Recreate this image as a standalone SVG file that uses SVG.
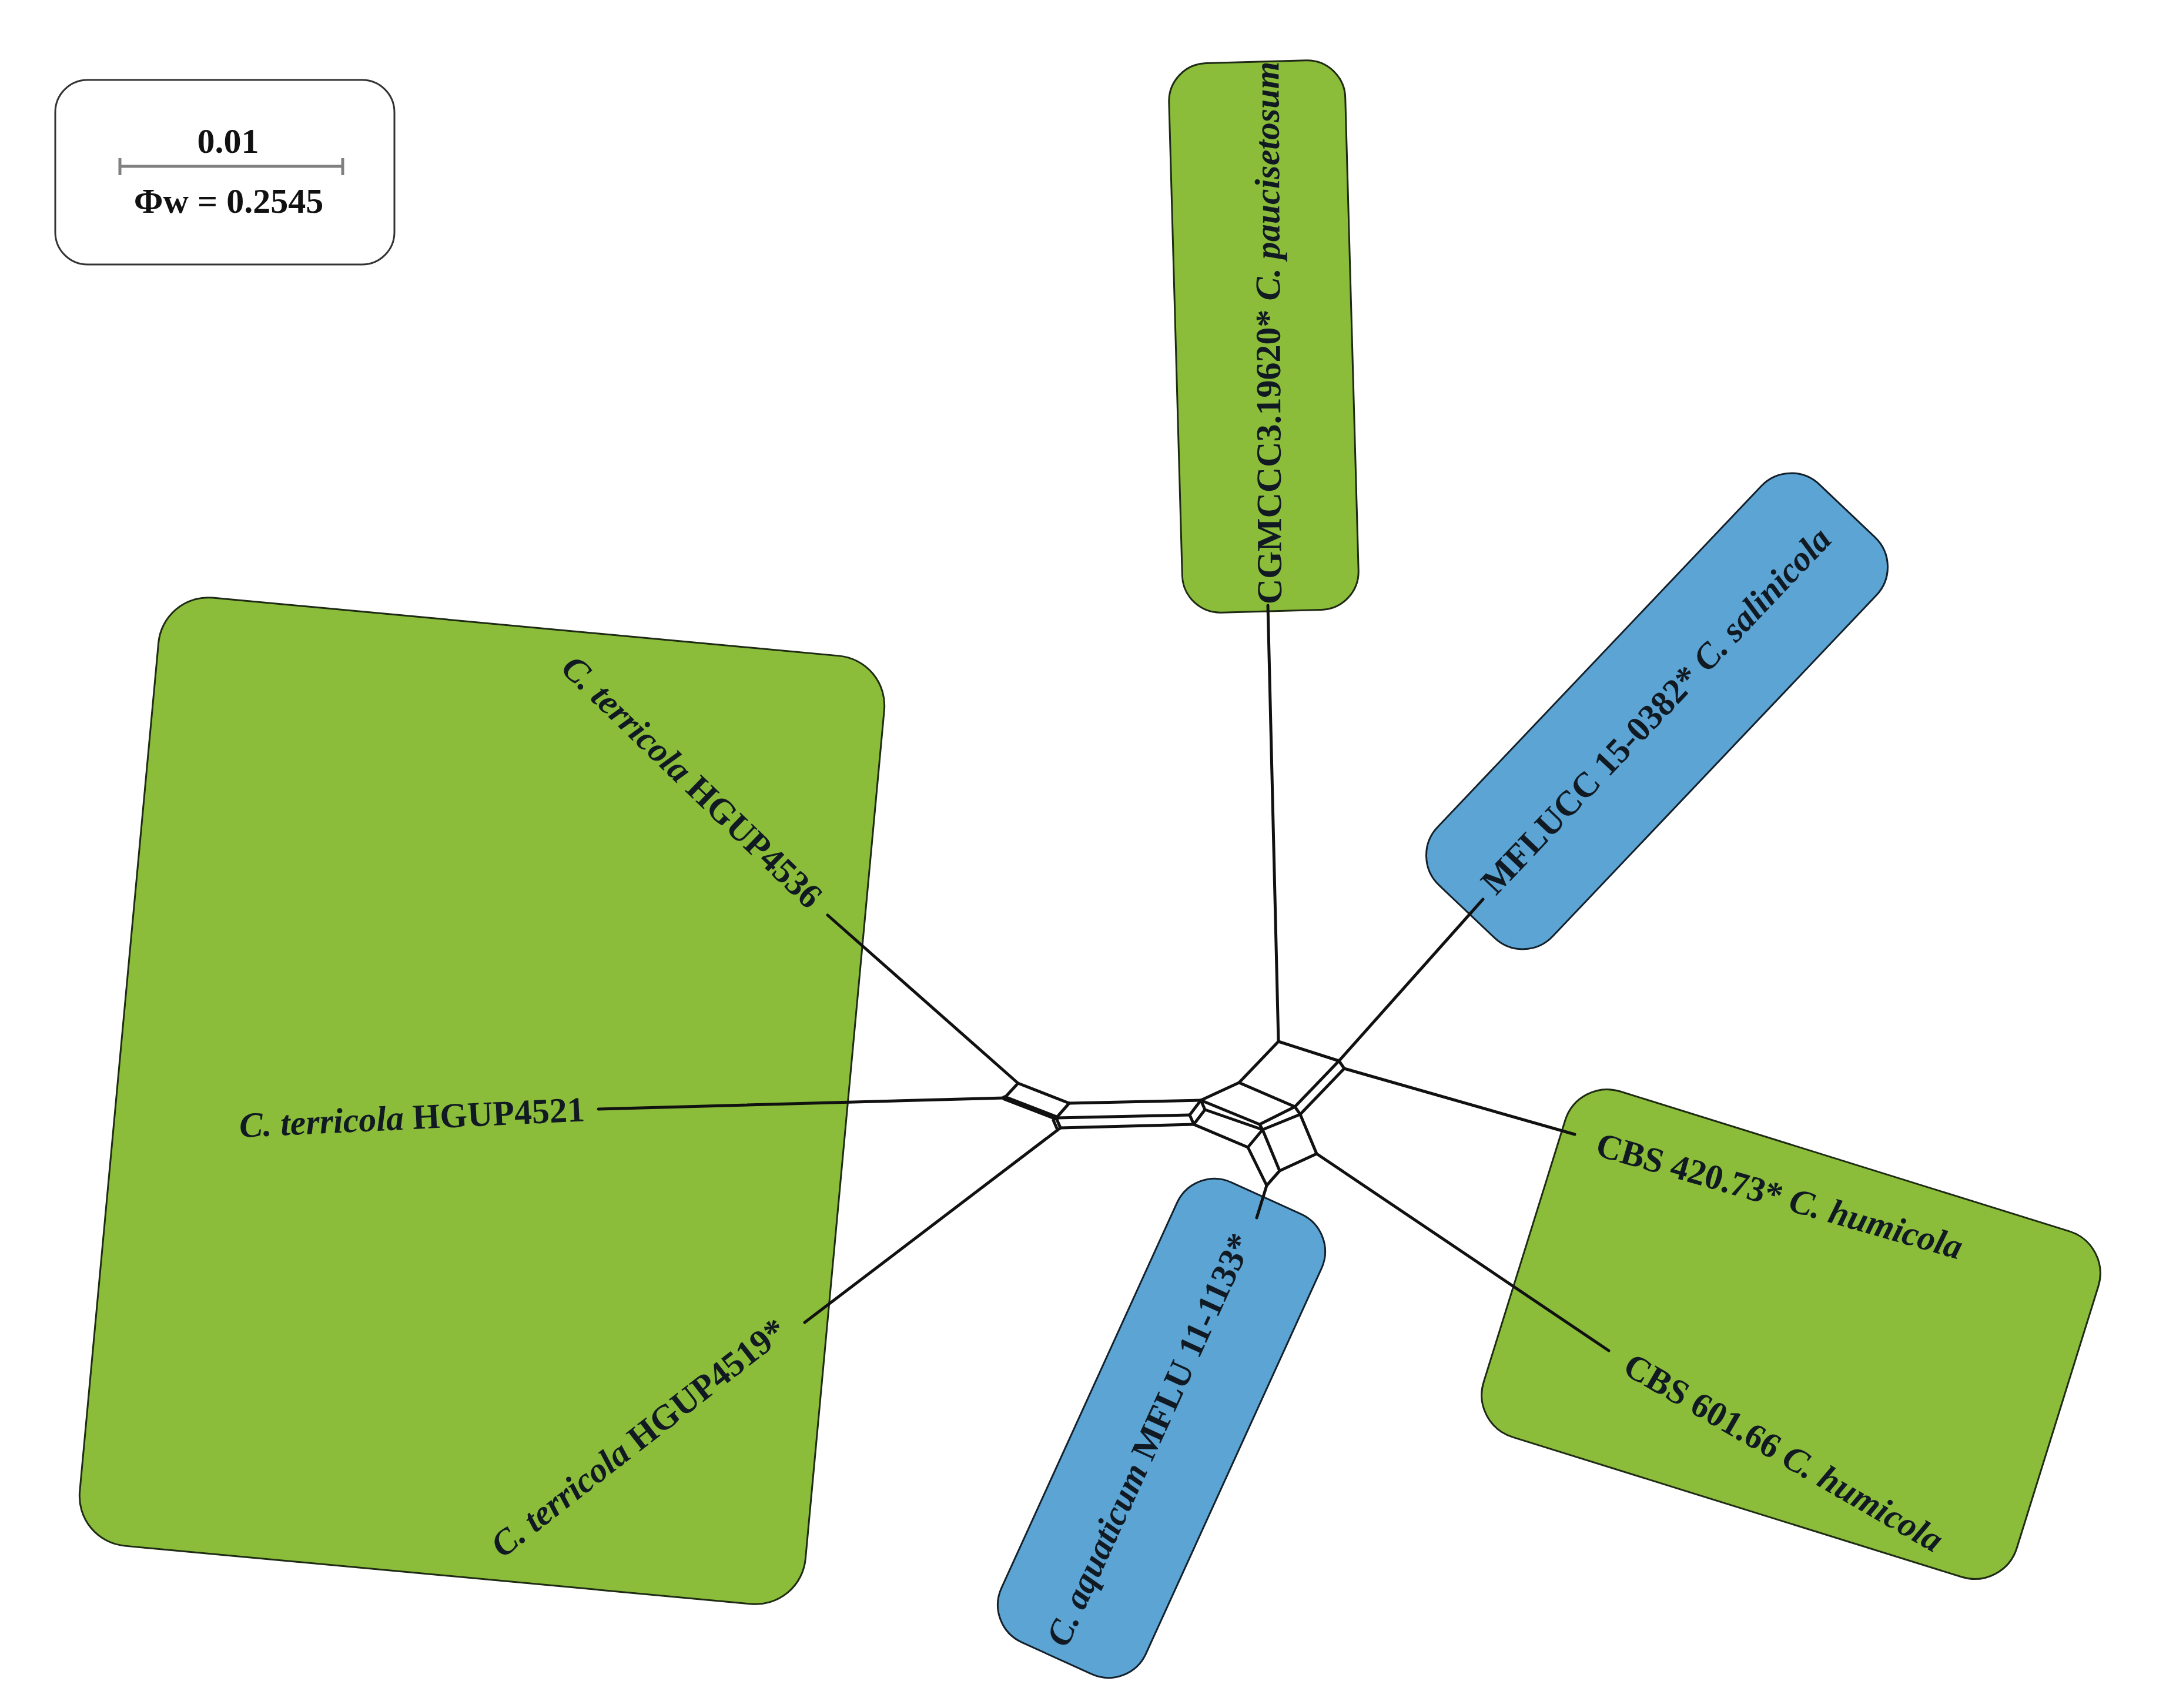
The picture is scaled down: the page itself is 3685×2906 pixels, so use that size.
<svg xmlns="http://www.w3.org/2000/svg" width="3685" height="2906" viewBox="0 0 3685 2906">
<style>
.bg{fill:#ffffff}
.green{fill:#8bbd3b;stroke:#1e2a14;stroke-width:3}
.blue{fill:#5ba4d4;stroke:#14202a;stroke-width:3}
.lbl{font-family:"Liberation Serif","Times New Roman",serif;font-weight:bold;font-size:60px;fill:#111a22}
.it{font-style:italic}
.edge{fill:none;stroke:#111;stroke-width:5;stroke-linecap:round;stroke-linejoin:round}
.thick{stroke-width:9}
.legtxt{font-family:"Liberation Serif","Times New Roman",serif;font-weight:bold;font-size:60px;fill:#111;text-anchor:middle}
</style>
<rect class="bg" x="0" y="0" width="3685" height="2906"/>

<g id="legend">
  <rect x="94" y="136" width="577" height="314" rx="55" ry="55" fill="#fff" stroke="#333" stroke-width="3"/>
  <text class="legtxt" x="388" y="260">0.01</text>
  <path d="M204 283 H583 M204 269 V298 M583 269 V298" fill="none" stroke="#808080" stroke-width="5"/>
  <text class="legtxt" x="389" y="362">Φw = 0.2545</text>
</g>

<g id="clade-terricola">
  <rect class="green" x="-620" y="-810" width="1240" height="1620" rx="85" ry="85" transform="translate(820,1873) rotate(5.3)"/>
  <g id="node-HGUP4536">
    <text class="lbl" transform="translate(952,1140) rotate(44)"><tspan class="it">C. terricola</tspan> HGUP4536</text>
  </g>
  <g id="node-HGUP4521">
    <text class="lbl" transform="translate(408,1935) rotate(-2.7)"><tspan class="it">C. terricola</tspan> HGUP4521</text>
  </g>
  <g id="node-HGUP4519">
    <text class="lbl" transform="translate(855,2652) rotate(-38)"><tspan class="it">C. terricola</tspan> HGUP4519*</text>
  </g>
</g>

<g id="node-paucisetosum">
  <rect class="green" x="-150" y="-467" width="300" height="935" rx="65" ry="65" transform="translate(2150,572) rotate(-1.6)"/>
  <text class="lbl" transform="translate(2180,1028) rotate(-90.3)" font-size="58">CGMCCC3.19620* <tspan class="it">C. paucisetosum</tspan></text>
</g>

<g id="node-salinicola">
  <rect class="blue" x="-470" y="-135" width="940" height="270" rx="70" ry="70" transform="translate(2819,1210) rotate(-46.5)"/>
  <text class="lbl" transform="translate(2545,1525) rotate(-46.5)">MFLUCC 15-0382* <tspan class="it">C. salinicola</tspan></text>
</g>

<g id="node-aquaticum">
  <rect class="blue" x="-430" y="-135" width="860" height="270" rx="70" ry="70" transform="translate(1976,2430) rotate(-65.5)"/>
  <text class="lbl" transform="translate(1815,2805) rotate(-65.5)"><tspan class="it">C. aquaticum</tspan> MFLU 11-1133*</text>
</g>

<g id="clade-humicola">
  <rect class="green" x="-475" y="-308" width="950" height="616" rx="75" ry="75" transform="translate(3047,2270) rotate(17.3)"/>
  <g id="node-CBS42073">
    <text class="lbl" transform="translate(2712,1965) rotate(16)">CBS 420.73* <tspan class="it">C. humicola</tspan></text>
  </g>
  <g id="node-CBS60166">
    <text class="lbl" transform="translate(2758,2335) rotate(30)">CBS 601.66 <tspan class="it">C. humicola</tspan></text>
  </g>
</g>

<g id="connectors">
  <!-- terminal branches -->
  <path class="edge" d="M2157 1030 L2175 1772"/>
  <path class="edge" d="M2278 1805 L2523 1530"/>
  <path class="edge" d="M2287 1818 L2679 1930"/>
  <path class="edge" d="M2240 1963 L2737 2298"/>
  <path class="edge" d="M2155 2017 L2138 2072"/>
  <path class="edge" d="M1732 1843 L1408 1557"/>
  <path class="edge" d="M1709 1868 L1018 1887"/>
  <path class="edge" d="M1804 1919 L1369 2250"/>
  <!-- left cluster -->
  <path class="edge" d="M1732 1843 L1709 1868"/>
  <path class="edge" d="M1732 1843 L1819 1877"/>
  <path class="edge thick" d="M1709 1868 L1797 1902"/>
  <path class="edge" d="M1819 1877 L1797 1902"/>
  <path class="edge" d="M1797 1902 L1804 1919"/>
  <path class="edge" d="M1792 1906 L1799 1922"/>
  <!-- long bands -->
  <path class="edge" d="M1819 1877 L2043 1872"/>
  <path class="edge" d="M1797 1902 L2024 1897"/>
  <path class="edge" d="M1804 1919 L2031 1913"/>
  <!-- small box -->
  <path class="edge" d="M2043 1872 L2024 1897 L2031 1913 L2050 1888 Z"/>
  <!-- right cluster -->
  <path class="edge" d="M2175 1772 L2278 1805"/>
  <path class="edge" d="M2175 1772 L2108 1842"/>
  <path class="edge" d="M2278 1805 L2203 1883"/>
  <path class="edge" d="M2287 1818 L2212 1896"/>
  <path class="edge" d="M2278 1805 L2287 1818"/>
  <path class="edge" d="M2203 1883 L2212 1896"/>
  <path class="edge" d="M2108 1842 L2203 1883"/>
  <path class="edge" d="M2108 1842 L2043 1872"/>
  <path class="edge" d="M2043 1872 L2143 1913"/>
  <path class="edge" d="M2143 1913 L2203 1883"/>
  <path class="edge" d="M2143 1913 L2148 1922"/>
  <path class="edge" d="M2050 1888 L2148 1922"/>
  <path class="edge" d="M2148 1922 L2212 1896"/>
  <path class="edge" d="M2031 1913 L2123 1952"/>
  <path class="edge" d="M2123 1952 L2148 1922"/>
  <path class="edge" d="M2148 1922 L2177 1992"/>
  <path class="edge" d="M2123 1952 L2155 2017"/>
  <path class="edge" d="M2155 2017 L2177 1992"/>
  <path class="edge" d="M2212 1896 L2240 1963"/>
  <path class="edge" d="M2177 1992 L2240 1963"/>
</g>
</svg>
